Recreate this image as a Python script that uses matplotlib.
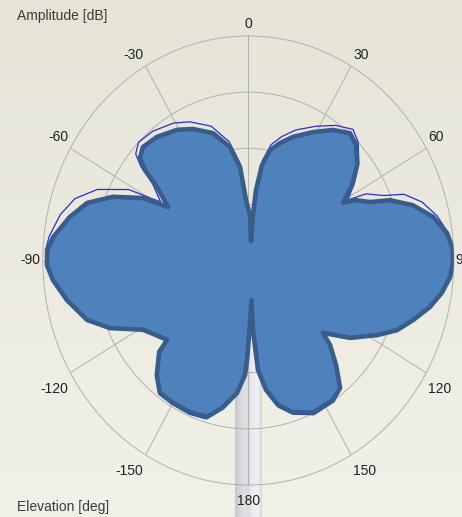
import numpy as np
import matplotlib
matplotlib.use("Agg")
import matplotlib.pyplot as plt
from matplotlib.colors import LinearSegmentedColormap
from matplotlib.transforms import offset_copy

# Elevation angles (deg, clockwise from zenith) of the traced pattern vertices
elev_deg = [8.6, 6.4, 6.8, 8.9, 12.1, 16.4, 21.6, 28.8, 35.3, 41.1, 45.5, 51.2, 56.3, 60.9,
            62.6, 66.3, 68.7, 72.9, 77.8, 82.8, 87.3, 90.6, 94.3, 98.7, 103.2, 108.3, 113.2,
            117.9, 124.9, 131.6, 133.4, 137.5, 141.8, 146.4, 155.1, 162.5, 167.3, 171.5,
            174.5, 175.8, 174.9, 178.9, 180.8, 181.8, 185.3, 190.7, 196.1, 202.8, 210.0,
            216.1, 221.1, 226.8, 228.2, 238.9, 245.9, 251.3, 258.7, 264.8, 268.8, 272.7,
            276.3, 282.6, 288.1, 293.3, 298.5, 301.4, 306.4, 308.7, 310.9, 314.6, 321.1,
            329.2, 335.3, 343.2, 350.0, 354.5, 357.6, 362.3]

# Measured amplitude (dB) - filled pattern
amp_measured = [-36.5, -31.8, -27.4, -22.8, -19.9, -18.2, -16.3, -13.9, -11.5, -9.9, -10.6,
                -12.8, -15.7, -18.9, -16.6, -14.1, -10.4, -6.5, -3.2, -1.0, -0.1, -0.2, -0.6,
                -1.9, -3.7, -6.2, -8.5, -11.6, -15.9, -20.6, -18.1, -14.7, -11.1, -10.2, -10.1,
                -11.7, -13.6, -16.7, -20.4, -27.6, -32.9, -27.6, -22.3, -19.6, -16.3, -13.4,
                -11.0, -10.7, -10.7, -10.8, -12.9, -16.2, -18.8, -16.1, -10.5, -6.9, -4.0,
                -1.8, -0.8, -0.8, -1.8, -4.4, -7.0, -11.3, -16.7, -21.7, -17.9, -14.2, -12.1,
                -11.2, -11.7, -12.9, -14.2, -16.3, -19.5, -23.3, -29.2, -31.9]

# Reference amplitude (dB) - thin outline
amp_reference = [-36.5, -31.8, -27.0, -22.0, -18.9, -17.0, -15.0, -12.7, -10.5, -9.0, -10.0,
                 -12.4, -15.2, -17.8, -14.2, -11.2, -7.5, -4.6, -2.4, -0.8, -0.1, -0.2, -0.6,
                 -1.9, -3.7, -6.2, -8.5, -11.6, -15.9, -20.6, -18.1, -14.7, -11.0, -9.8, -9.7,
                 -11.3, -13.2, -16.3, -20.2, -27.6, -32.9, -27.6, -22.3, -19.6, -16.1, -13.0,
                 -10.6, -10.3, -10.4, -10.5, -12.6, -16.2, -18.8, -16.1, -10.5, -6.9, -4.0,
                 -1.8, -0.7, -0.5, -1.0, -2.5, -4.5, -8.0, -13.5, -20.0, -16.8, -13.2, -11.0,
                 -10.0, -10.4, -11.5, -12.8, -15.0, -18.5, -22.5, -28.6, -31.9]

tick_deg = [0, 30, 60, 90, 120, 150, 180, 210, 240, 270, 300, 330]
tick_labels = ["0", "30", "60", "90", "120", "150", "180", "-150", "-120", "-90", "-60", "-30"]
r_ticks = [-30, -20, -10]
r_min, r_max = -40, 0

W, H = 462, 517
FONT = ["Liberation Sans", "DejaVu Sans"]

fig = plt.figure(figsize=(W / 100, H / 100), dpi=100)

# Backdrop: soft beige gradient and the antenna mast
bg = fig.add_axes([0, 0, 1, 1], zorder=0)
bg_cmap = LinearSegmentedColormap.from_list("bg", ["#e6e4d7", "#f2f1e9"])
bg.imshow(np.linspace(0, 1, 256).reshape(-1, 1), cmap=bg_cmap,
          extent=[0, W, H, 0], aspect="auto", interpolation="bilinear")
mast_cmap = LinearSegmentedColormap.from_list(
    "mast", [(0, "#c6c6cb"), (0.12, "#d2d2d7"), (0.35, "#e0e0e4"), (0.5, "#dadade"),
             (0.62, "#ebebef"), (0.85, "#f1f1f4"), (1, "#d8d8dc")])
bg.imshow(np.linspace(0, 1, 64).reshape(1, -1), cmap=mast_cmap,
          extent=[235, 262, H, 300], aspect="auto", interpolation="bilinear")
bg.set_xlim(0, W)
bg.set_ylim(H, 0)
bg.axis("off")

# Polar (elliptical) pattern axes
ax = fig.add_axes([42.8 / W, 32 / H, 411 / W, 449 / H], projection="polar", zorder=1)
ax.set_aspect("auto")
ax.patch.set_alpha(0)
ax.set_theta_zero_location("N")
ax.set_theta_direction(-1)
ax.set_ylim(r_min, r_max)
ax.set_yticks(r_ticks)
ax.set_yticklabels([])
ax.set_xticks(np.deg2rad(tick_deg))
ax.set_xticklabels([])
ax.tick_params(axis="x", length=0)
ax.grid(True, color="#b0b0b0", lw=0.7)
ax.spines["polar"].set_color("#b0b0b0")
ax.spines["polar"].set_linewidth(0.7)

# Angle labels sit just outside the rim, anchored by their nearest corner
for deg, lab in zip(tick_deg, tick_labels):
    s, c = np.sin(np.deg2rad(deg)), np.cos(np.deg2rad(deg))
    ha = "left" if s > 0.3 else ("right" if s < -0.3 else "center")
    va = "bottom" if c > 0.3 else ("top" if c < -0.3 else "center")
    dx = 2.0 * np.sign(s) if abs(s) > 0.3 else 0.0
    dy = 4.5 if va == "bottom" else (-9.0 if va == "top" else 0.0)
    tr = offset_copy(ax.transData, fig=fig, x=dx, y=dy, units="dots")
    ax.text(np.deg2rad(deg), r_max, lab, transform=tr, ha=ha, va=va,
            fontsize=10, color="#222222", fontfamily=FONT, clip_on=False)

th = np.deg2rad(elev_deg)
th_closed = np.append(th, th[0])
ref_closed = np.append(amp_reference, amp_reference[0])
meas_closed = np.append(amp_measured, amp_measured[0])

ax.plot(th_closed, ref_closed, color="#2b2bd6", lw=0.9, zorder=3)
ax.fill(th, amp_measured, color="#4f81bd", lw=0, zorder=4)
ax.plot(th_closed, meas_closed, color="#385d8a", lw=3.3,
        solid_joinstyle="round", solid_capstyle="round", zorder=5)

fig.text(17 / W, 1 - 16 / H, "Amplitude [dB]", ha="left", va="center",
         fontsize=10, color="#3a3a3a", fontfamily=FONT)
fig.text(17 / W, 1 - 507 / H, "Elevation [deg]", ha="left", va="center",
         fontsize=10, color="#3a3a3a", fontfamily=FONT)

fig.savefig("out.png", dpi=100)
